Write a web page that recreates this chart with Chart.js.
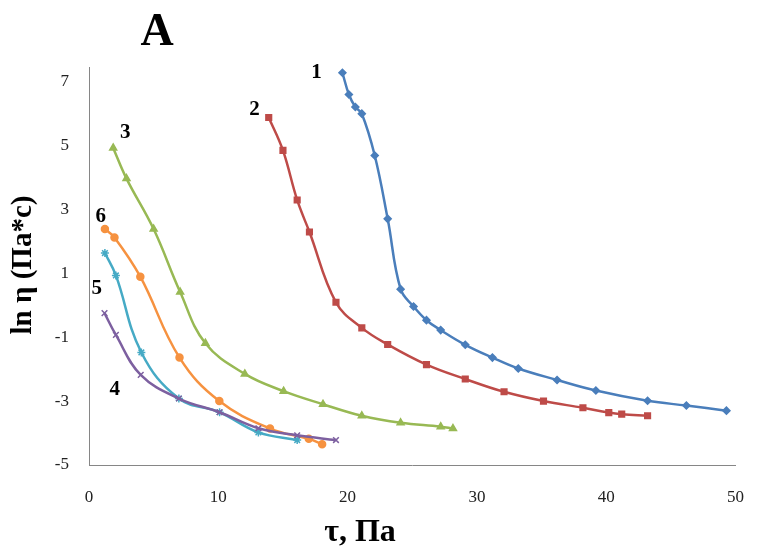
<!DOCTYPE html>
<html>
<head>
<meta charset="utf-8">
<script src="https://cdn.jsdelivr.net/npm/chart.js@4.4.1/dist/chart.umd.min.js"></script>
<style>
  html, body { margin: 0; padding: 0; background: #fff; }
  #wrap { width: 758px; height: 549px; }
</style>
</head>
<body>
<div id="wrap"><canvas id="chart" width="758" height="549"></canvas></div>
<script>
// tau (Pa) and ln(eta) for each curve
const tau1 = [19.6, 20.1, 20.6, 21.1, 22.1, 23.1, 24.1, 25.1, 26.1, 27.2, 29.1, 31.2, 33.2, 36.2, 39.2, 43.2, 46.2, 49.3];
const eta1 = [7.27, 6.59, 6.20, 5.99, 4.68, 2.70, 0.50, -0.04, -0.47, -0.78, -1.24, -1.64, -1.98, -2.34, -2.67, -2.99, -3.14, -3.30];

const tau2 = [13.9, 15.0, 16.1, 17.05, 19.1, 21.1, 23.1, 26.1, 29.1, 32.1, 35.15, 38.2, 40.2, 41.2, 43.2];
const eta2 = [5.87, 4.84, 3.29, 2.29, 0.09, -0.71, -1.23, -1.86, -2.31, -2.71, -3.00, -3.21, -3.36, -3.41, -3.46];

const tau3 = [1.87, 2.9, 5.0, 7.05, 9.0, 12.05, 15.05, 18.1, 21.1, 24.1, 27.2, 28.15];
const eta3 = [4.92, 3.96, 2.38, 0.41, -1.19, -2.15, -2.69, -3.10, -3.46, -3.68, -3.80, -3.86];

const tau4 = [1.2, 2.08, 4.0, 6.95, 10.1, 13.1, 16.1, 19.1];
const eta4 = [-0.25, -0.93, -2.18, -2.92, -3.35, -3.85, -4.07, -4.22];

const tau5 = [1.23, 2.08, 4.05, 6.95, 10.1, 13.1, 16.1];
const eta5 = [1.63, 0.93, -1.48, -2.92, -3.35, -3.98, -4.22];

const tau6 = [1.23, 1.97, 3.97, 7.0, 10.08, 14.0, 17.0, 18.03];
const eta6 = [2.38, 2.12, 0.89, -1.64, -3.00, -3.86, -4.18, -4.35];

const yTicks = [-5, -3, -1, 1, 3, 5, 7];
const xTicks = [0, 10, 20, 30, 40, 50];

// curve numbers and where they sit (data units)
const curveNames = ['1', '2', '3', '4', '5', '6'];
const nameX = [17.6, 12.8, 2.8, 2.0, 0.6, 0.9];
const nameY = [7.28, 6.12, 5.4, -2.65, 0.51, 2.77];

const pts = (xs, ys) => xs.map((x, i) => ({x, y: ys[i]}));

const serif = "'Liberation Serif', 'DejaVu Serif', serif";

function line(data, color, style, radius) {
  return {
    data, borderColor: color, backgroundColor: color,
    borderWidth: 2.5, showLine: true, tension: 0.4,
    pointStyle: style, pointRadius: radius, pointBorderWidth: 1.5,
    pointBorderColor: color, pointBackgroundColor: color
  };
}

const textPlugin = {
  id: 'texts',
  afterDraw(chart) {
    const c = chart.ctx, xs = chart.scales.x, ys = chart.scales.y;
    c.save();
    c.fillStyle = '#000';
    c.textAlign = 'center';
    c.textBaseline = 'alphabetic';
    c.font = `bold 46px ${serif}`;
    c.fillText('A', 157, 45);
    c.font = `bold 32px ${serif}`;
    c.fillText('τ, Па', 360, 541);
    c.textBaseline = 'middle';
    c.font = `bold 21px ${serif}`;
    curveNames.forEach((n, i) => c.fillText(n, xs.getPixelForValue(nameX[i]), ys.getPixelForValue(nameY[i])));
    c.translate(24, 265);
    c.rotate(-Math.PI / 2);
    c.font = `bold 29px ${serif}`;
    c.fillText('ln η (Па*с)', 0, 0);
    c.restore();
  }
};

new Chart(document.getElementById('chart'), {
  type: 'scatter',
  data: {
    datasets: [
      line(pts(tau1, eta1), '#4a7ebb', 'rectRot', 3.5),
      line(pts(tau2, eta2), '#be4b48', 'rect', 4),
      line(pts(tau3, eta3), '#98b954', 'triangle', 4),
      line(pts(tau4, eta4), '#7d60a0', 'crossRot', 4),
      line(pts(tau5, eta5), '#46aac5', 'star', 4),
      line(pts(tau6, eta6), '#f69240', 'circle', 3.5)
    ]
  },
  options: {
    responsive: false,
    animation: false,
    layout: { padding: { left: 0, right: 19, top: 67, bottom: 0 } },
    plugins: { legend: { display: false }, tooltip: { enabled: false } },
    scales: {
      x: {
        type: 'linear', min: 0, max: 50,
        afterBuildTicks: s => { s.ticks = xTicks.map(v => ({value: v})); },
        afterFit: s => { s.height = 84; },
        grid: { display: false },
        border: { display: true, color: '#868686', width: 1 },
        ticks: { color: '#222', font: { family: serif, size: 17 }, padding: 14 }
      },
      y: {
        type: 'linear', min: -5, max: 7.45,
        afterBuildTicks: s => { s.ticks = yTicks.map(v => ({value: v})); },
        afterFit: s => { s.width = 89; },
        grid: { display: false },
        border: { display: true, color: '#868686', width: 1 },
        ticks: { color: '#222', font: { family: serif, size: 17 }, padding: 12 }
      }
    }
  },
  plugins: [textPlugin]
});
</script>
</body>
</html>
